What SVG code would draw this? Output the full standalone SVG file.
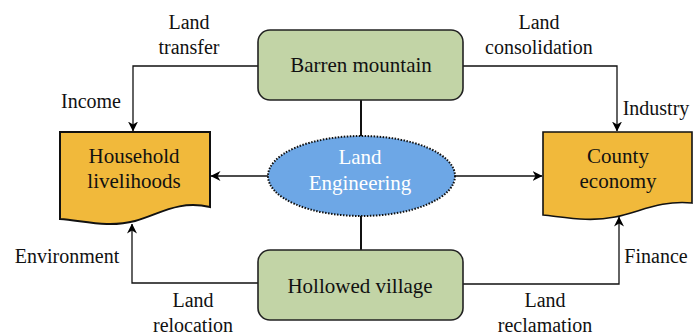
<svg xmlns="http://www.w3.org/2000/svg" width="693" height="335" viewBox="0 0 693 335">
<defs>
<marker id="arr" viewBox="0 0 10 10" refX="9.5" refY="5" markerWidth="10" markerHeight="10" markerUnits="userSpaceOnUse" orient="auto">
<path d="M0,0 L10,5 L0,10 L3,5 Z" fill="#000"/>
</marker>
</defs>
<style>
text{font-family:"Liberation Serif","Times New Roman",serif;font-size:21px;fill:#111;text-anchor:middle}
.lbl{font-size:20px}
.box{fill:#c2d4a6;stroke:#222;stroke-width:1.6}
.doc{fill:#f1b93b;stroke:#111;stroke-width:2}
.ln{fill:none;stroke:#111;stroke-width:1.3}
.vl{fill:none;stroke:#111;stroke-width:2}
.white{fill:#fff}
</style>
<rect width="693" height="335" fill="#fff"/>
<g id="connectors">
<line class="vl" x1="361" y1="100" x2="361" y2="136"/>
<line class="vl" x1="361" y1="216" x2="361" y2="250"/>
<line class="ln" x1="268" y1="176" x2="211" y2="176" marker-end="url(#arr)"/>
<line class="ln" x1="455" y1="176" x2="542" y2="176" marker-end="url(#arr)"/>
<polyline class="ln" points="258,66 133,66 133,131" marker-end="url(#arr)"/>
<polyline class="ln" points="463,66 617,66 617,131" marker-end="url(#arr)"/>
<polyline class="ln" points="258,283 132,283 132,224" marker-end="url(#arr)"/>
<polyline class="ln" points="463,284 619,284 619,217" marker-end="url(#arr)"/>
<text class="lbl" x="189" y="29">Land</text>
<text class="lbl" x="189" y="54">transfer</text>
<text class="lbl" x="91" y="108">Income</text>
<text class="lbl" x="539" y="29">Land</text>
<text class="lbl" x="539" y="54">consolidation</text>
<text class="lbl" x="656" y="115">Industry</text>
<text class="lbl" x="67" y="263">Environment</text>
<text class="lbl" x="656" y="263">Finance</text>
<text class="lbl" x="193" y="307">Land</text>
<text class="lbl" x="193" y="332">relocation</text>
<text class="lbl" x="545" y="307">Land</text>
<text class="lbl" x="545" y="332">reclamation</text>
</g>
<g id="barren">
<rect class="box" x="258" y="30" width="205" height="70" rx="12"/>
<text x="361" y="72">Barren mountain</text>
</g>
<g id="hollowed">
<rect class="box" x="258" y="250" width="205" height="70" rx="12"/>
<text x="360" y="293">Hollowed village</text>
</g>
<g id="household">
<path class="doc" d="M60,132 H210 V207 C178,200 160,214 135,221 C108,228 85,221 60,219 Z"/>
<text x="134" y="163">Household</text>
<text x="134" y="188">livelihoods</text>
</g>
<g id="county">
<path class="doc" style="stroke-width:1.6" d="M543,132 H692 V203 C660,200 640,212 615,217 C590,222 570,218 543,215 Z"/>
<text x="618" y="163">County</text>
<text x="618" y="188">economy</text>
</g>
<g id="engineering">
<ellipse cx="361.5" cy="176" rx="93.5" ry="40" fill="#6da7e6" stroke="#111" stroke-width="2" stroke-dasharray="1.5 1.5"/>
<text class="white" x="360" y="164">Land</text>
<text class="white" x="360" y="190">Engineering</text>
</g>
</svg>
